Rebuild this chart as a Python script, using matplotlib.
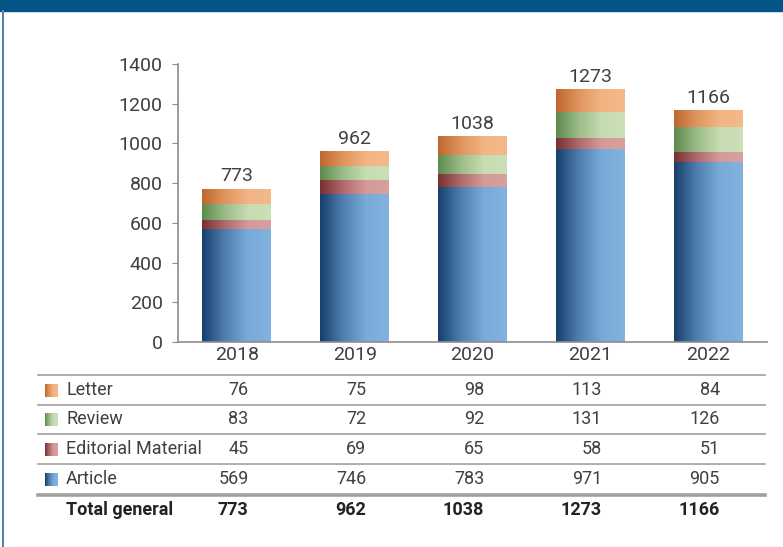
import numpy as np
import matplotlib
matplotlib.use('Agg')
import matplotlib.pyplot as plt
from matplotlib.colors import LinearSegmentedColormap
from matplotlib.patches import Rectangle
from matplotlib.lines import Line2D
import matplotlib.transforms as mtransforms

plt.rcParams['font.family'] = ['Roboto', 'DejaVu Sans']

# data
years = ['2018', '2019', '2020', '2021', '2022']
article = [569, 746, 783, 971, 905]
editorial = [45, 69, 65, 58, 51]
review = [83, 72, 92, 131, 126]
letter = [76, 75, 98, 113, 84]
totals = [773, 962, 1038, 1273, 1166]

series_names = ['Letter', 'Review', 'Editorial Material', 'Article']
series_vals = [letter, review, editorial, article]

# gradient colours (left dark -> right light)
grad = {
    'Article': ['#163f6b', '#4f7fb0', '#7aaad8', '#82b2de'],
    'Editorial Material': ['#7a2e30', '#b06a6c', '#d49a98', '#d8a0a0'],
    'Review': ['#5e8a4c', '#9cbc88', '#c6dcb2', '#cce0b8'],
    'Letter': ['#c0662e', '#e0955e', '#f2b484', '#f4b98a'],
}
cmaps = {k: LinearSegmentedColormap.from_list(k, v) for k, v in grad.items()}

txt = '#404040'
W, H = 783, 547
fig = plt.figure(figsize=(W / 100, H / 100), dpi=100)

def px(x0, y0, x1, y1):
    return [x0 / W, 1 - y1 / H, (x1 - x0) / W, (y1 - y0) / H]

# header band and left border
fig.patches.append(Rectangle((0, 1 - 11 / H), 1, 11 / H, transform=fig.transFigure,
                             color='#035588', zorder=0))
fig.add_artist(Line2D([2.5 / W, 2.5 / W], [0, 1 - 11 / H], transform=fig.transFigure,
                      color='#4f86b6', lw=1.5))

ax = fig.add_axes(px(178, 64, 767, 342))
x = np.arange(len(years))
gradient = np.linspace(0, 1, 256).reshape(1, -1)

bottom = np.zeros(len(years))
for name, vals in [('Article', article), ('Editorial Material', editorial),
                   ('Review', review), ('Letter', letter)]:
    bars = ax.bar(x, vals, width=0.585, bottom=bottom, color='none', edgecolor='none')
    for b in bars:
        x0, y0 = b.get_x(), b.get_y()
        im = ax.imshow(gradient, cmap=cmaps[name], aspect='auto',
                       extent=[x0, x0 + b.get_width(), y0, y0 + b.get_height()],
                       zorder=2)
        im.set_clip_path(b)
    bottom += np.array(vals)

for xi, t in zip(x, totals):
    ax.text(xi, t + 16, str(t), ha='center', va='bottom', fontsize=14, color=txt)

ax.set_xlim(-0.5, 4.5)
ax.set_ylim(0, 1400)
ax.set_yticks(range(0, 1401, 200))
ax.set_xticks(x)
ax.set_xticklabels(years)
for s in ['top', 'right']:
    ax.spines[s].set_visible(False)
for s in ['left', 'bottom']:
    ax.spines[s].set_color('#8c8c8c')
    ax.spines[s].set_linewidth(1.2)
ax.tick_params(axis='y', length=4, color='#8c8c8c', labelsize=14, labelcolor=txt, pad=7)
ax.tick_params(axis='x', length=0, labelsize=14, labelcolor=txt, pad=3)

# table below the chart
trans = mtransforms.blended_transform_factory(ax.transData, fig.transFigure)
line_y = [375, 404.5, 434, 464]
for ly in line_y:
    fig.add_artist(Line2D([38 / W, 765 / W], [1 - ly / H] * 2, transform=fig.transFigure,
                          color='#a0a0a0', lw=1.2))
fig.add_artist(Line2D([38 / W, 765 / W], [1 - 495 / H] * 2, transform=fig.transFigure,
                      color='#a0a0a0', lw=2.6))

row_y = [390, 419.5, 449, 479]
for name, vals, ry in zip(series_names, series_vals, row_y):
    yf = 1 - ry / H
    sax = fig.add_axes(px(45, ry - 6.5, 58, ry + 6.5))
    sax.imshow(gradient, cmap=cmaps[name], aspect='auto')
    sax.axis('off')
    fig.text(66 / W, yf, name, ha='left', va='center', fontsize=13, color=txt)
    for xi, v in zip(x, vals):
        ax.text(xi + 0.1, yf, str(v), transform=trans, ha='right', va='center',
                fontsize=13, color=txt)

yf = 1 - 510 / H
fig.text(66 / W, yf, 'Total general', ha='left', va='center', fontsize=13,
         fontweight='bold', color='#222222')
for xi, t in zip(x, totals):
    ax.text(xi + 0.1, yf, str(t), transform=trans, ha='right', va='center',
            fontsize=13, fontweight='bold', color='#222222')

fig.savefig('out.png', dpi=100)
